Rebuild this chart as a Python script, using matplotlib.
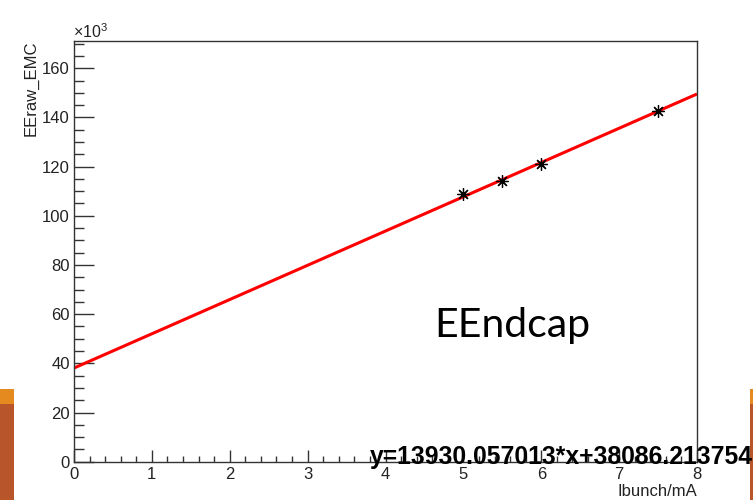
import matplotlib
matplotlib.use("Agg")
import matplotlib.pyplot as plt
from matplotlib.patches import Rectangle
from matplotlib.ticker import MultipleLocator, FuncFormatter
import numpy as np

# Measured points (bunch current in mA, raw EMC energy sum)
ibunch = [5.0, 5.5, 6.0, 7.5]
eeraw = [108.7e3, 114.1e3, 120.9e3, 142.6e3]

# Linear fit parameters
slope = 13930.057013
intercept = 38086.213754
fit_range = [0.0, 8.0]

W, H = 753, 500
plt.rcParams['font.family'] = ['Liberation Sans', 'DejaVu Sans']
plt.rcParams['mathtext.fontset'] = 'custom'
plt.rcParams['mathtext.rm'] = 'Liberation Sans'
plt.rcParams['mathtext.it'] = 'Liberation Sans'

fig = plt.figure(figsize=(W / 100, H / 100), dpi=100)


def fx(px):
    return px / W


def fy(py):
    return 1 - py / H


# slide decorations behind the plot
for x0, wd in [(0, 14), (750, 3)]:
    fig.add_artist(Rectangle((fx(x0), fy(500)), wd / W, (500 - 404) / H,
                             transform=fig.transFigure, color='#B9552B', lw=0))
    fig.add_artist(Rectangle((fx(x0), fy(404)), wd / W, (404 - 389) / H,
                             transform=fig.transFigure, color='#E58A1E', lw=0))

ax = fig.add_axes([fx(74), fy(461.7), (697 - 74) / W, (461.7 - 40.7) / H])
ax.set_xlim(0, 8)
ax.set_ylim(0, 171.2e3)

xs = np.array(fit_range)
ax.plot(xs, slope * xs + intercept, color='#FF0000', lw=2.2, zorder=2,
        solid_capstyle='butt')
ax.plot(ibunch, eeraw, linestyle='none', marker=(8, 2, 0), markersize=9,
        markeredgewidth=0.9, color='black', zorder=3)

for s in ax.spines.values():
    s.set_color('#333333')
    s.set_linewidth(1.0)

ax.xaxis.set_major_locator(MultipleLocator(1))
ax.xaxis.set_minor_locator(MultipleLocator(0.2))
ax.yaxis.set_major_locator(MultipleLocator(20e3))
ax.yaxis.set_minor_locator(MultipleLocator(5e3))
ax.yaxis.set_major_formatter(FuncFormatter(lambda v, p: f"{v / 1e3:.0f}"))

ax.tick_params(axis='x', which='major', direction='in', length=8.6, width=1,
               color='#333333', labelsize=12, pad=4, labelcolor='#222222')
ax.tick_params(axis='x', which='minor', direction='in', length=4.3, width=1,
               color='#333333')
ax.tick_params(axis='y', which='major', direction='in', length=14.4, width=1,
               color='#333333', labelsize=12, pad=3, labelcolor='#222222')
ax.tick_params(axis='y', which='minor', direction='in', length=7.2, width=1,
               color='#333333')

fig.text(fx(73), fy(38), r'$\times10^{3}$', fontsize=11.5, color='#222222',
         ha='left', va='baseline')
fig.text(fx(31), fy(40), 'EEraw_EMC', rotation=90, fontsize=12,
         color='#222222', ha='center', va='top')
fig.text(fx(697), fy(492), 'Ibunch/mA', fontsize=12, color='#222222',
         ha='right', va='center')

fig.text(fx(434), fy(337), 'EEndcap', fontsize=29.5, family='Lato',
         color='black', ha='left', va='baseline')
fig.text(fx(370), fy(464), 'y=13930.057013*x+38086.213754', fontsize=17.8,
         fontweight='bold', color='black', ha='left', va='baseline')

fig.savefig('out.png', dpi=100)
